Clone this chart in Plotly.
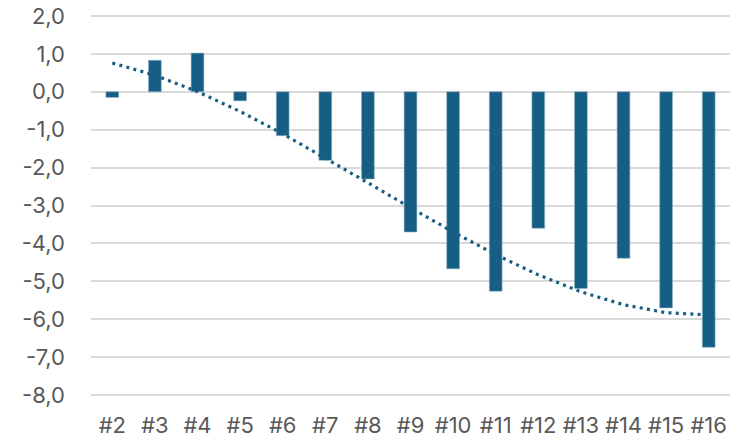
import numpy as np
import plotly.graph_objects as go

categories = ["#2", "#3", "#4", "#5", "#6", "#7", "#8", "#9", "#10", "#11", "#12", "#13", "#14", "#15", "#16"]
values = [-0.15, 0.83, 1.02, -0.24, -1.16, -1.81, -2.30, -3.70, -4.67, -5.26, -3.60, -5.19, -4.39, -5.70, -6.74]
y_ticks = [2, 1, 0, -1, -2, -3, -4, -5, -6, -7, -8]
y_tick_labels = ["2,0", "1,0", "0,0", "-1,0", "-2,0", "-3,0", "-4,0", "-5,0", "-6,0", "-7,0", "-8,0"]

xi = np.arange(len(values))
coef = np.polyfit(xi, values, 3)
trend = np.polyval(coef, xi)

color = "#165E83"
fig = go.Figure()
fig.add_trace(go.Bar(x=categories, y=values, marker=dict(color=color, line=dict(color="#8fb4c8", width=0.6)), width=0.3))
fig.add_trace(go.Scatter(x=categories, y=trend, mode="lines", line=dict(color=color, width=3.2, dash="3px,4.3px")))

fig.update_layout(
    width=756, height=439,
    margin=dict(l=91, r=26, t=14, b=42),
    paper_bgcolor="white", plot_bgcolor="white",
    showlegend=False,
    font=dict(family="Inter", size=22, color="#595959"),
    xaxis=dict(type="category", showgrid=False, showline=False, ticks="", automargin=False, ticklabelstandoff=13),
    yaxis=dict(range=[-8.05, 2.05], tickvals=y_ticks, ticktext=y_tick_labels, showgrid=True, gridcolor="#d9d9d9", gridwidth=1.5,
               zeroline=False, ticks="", ticklabelstandoff=25, automargin=False, ticklabeloverflow="allow"),
)
fig.write_html("out.html", config={"displayModeBar": False},
               post_script="document.body.style.margin='0';document.body.style.overflow='hidden';")
